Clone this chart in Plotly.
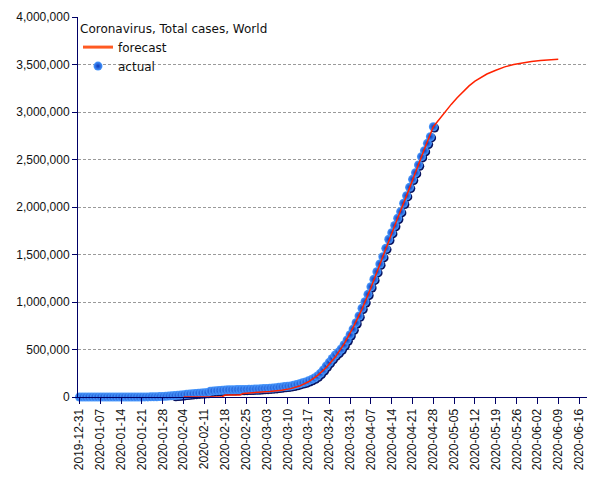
import pandas as pd
import plotly.graph_objects as go

# ---------------- data ----------------
actual_start = "2019-12-31"
actual_values = [
    27,
    # Jan
    27, 27, 44, 44, 59, 59, 59, 59, 59, 59, 59, 60, 61, 62, 63, 64, 66, 76, 203, 282,
    314, 580, 845, 1320, 2014, 2798, 4593, 6065, 7818, 9826, 11953,
    # Feb
    14557, 17391, 20630, 24554, 28276, 31481, 34886, 37558, 40554, 43103, 45171, 46997,
    60327, 64473, 67100, 69197, 71329, 73332, 75184, 75700, 76677, 77673, 78651, 79205,
    80087, 80828, 81820, 83112, 84615,
    # Mar
    86604, 88585, 90443, 93016, 95314, 98425, 102050, 106099, 109991, 113000, 117000,
    124000, 132000, 140000, 150000, 158000, 170000, 183000, 200000, 221000, 249000,
    285000, 326000, 365000, 405000, 442000, 470000, 505000, 550000, 600000, 655000,
    # Apr
    715000, 782000, 853000, 934000, 1003000, 1081000, 1160000, 1240000, 1319000, 1400000,
    1477000, 1565000, 1660000, 1730000, 1805000, 1881000, 1951000, 2039000, 2119000,
    2207000, 2291000, 2361000, 2442000, 2530000, 2593000, 2670000, 2740000, 2845000,
]
actual_dates = pd.date_range(actual_start, periods=len(actual_values), freq="D")

forecast_dates = [
    "2020-02-04", "2020-02-17", "2020-02-18", "2020-02-23", "2020-02-24", "2020-03-01",
    "2020-03-04", "2020-03-08", "2020-03-11", "2020-03-14", "2020-03-17", "2020-03-20",
    "2020-03-23", "2020-03-26", "2020-03-29", "2020-04-01", "2020-04-04", "2020-04-07",
    "2020-04-10", "2020-04-13", "2020-04-16", "2020-04-19", "2020-04-22", "2020-04-25",
    "2020-04-28", "2020-04-30", "2020-05-02", "2020-05-04", "2020-05-06", "2020-05-08",
    "2020-05-10", "2020-05-12", "2020-05-14", "2020-05-16", "2020-05-19", "2020-05-22",
    "2020-05-25", "2020-05-28", "2020-05-31", "2020-06-03", "2020-06-06", "2020-06-09",
]
forecast_values = [
    0, 3000, 20000, 21000, 38000, 48000,
    58000, 72000, 88000, 115000, 160000, 225000,
    310000, 420000, 560000, 730000, 925000, 1150000,
    1400000, 1650000, 1885000, 2120000, 2370000, 2610000,
    2845000, 2925000, 3003000, 3080000, 3150000, 3215000,
    3275000, 3325000, 3365000, 3400000, 3440000, 3475000,
    3500000, 3518000, 3532000, 3542000, 3550000, 3555000,
]

legend_title = "Coronavirus, Total cases, World"
y_ticks = [0, 500000, 1000000, 1500000, 2000000, 2500000, 3000000, 3500000, 4000000]
x_ticks = pd.date_range("2019-12-31", "2020-06-16", freq="7D")

# ---------------- figure ----------------
x_lo = pd.Timestamp("2019-12-30 12:00")
x_hi = pd.Timestamp("2020-06-18 16:00")
y_lo, y_hi = 0, 4000000
shadow_dx = pd.Timedelta(hours=10)
shadow_dy = 13000

AXIS = "#000066"
fig = go.Figure()

# legend entry for forecast (also anchors the main axes)
fig.add_trace(go.Scatter(
    x=[None], y=[None], mode="lines", name="forecast",
    line=dict(color="#ff5a22", width=3), legendrank=1,
))
# shadow under the balls (same data, drawn on a slightly shifted overlay axis)
fig.add_trace(go.Scatter(
    x=actual_dates, y=actual_values, mode="markers", xaxis="x2", yaxis="y2",
    marker=dict(size=9, color="#0a1460"), showlegend=False, hoverinfo="skip",
    cliponaxis=False,
))
fig.add_trace(go.Scatter(
    x=actual_dates, y=actual_values, mode="markers", name="actual",
    xaxis="x3", yaxis="y3",
    marker=dict(size=9, color="#4a9bff",
                gradient=dict(type="radial", color="#0a36b8"),
                line=dict(width=0)),
    legendrank=2, cliponaxis=False,
))
fig.add_trace(go.Scatter(
    x=forecast_dates, y=forecast_values, mode="lines", name="forecast",
    xaxis="x3", yaxis="y3",
    line=dict(color="#ff2200", width=1.5), showlegend=False,
))

# the page body has an 8px margin, so the figure is 8px smaller than the window
fig.update_layout(
    width=597, height=472,
    margin=dict(l=70, r=18, t=9, b=83, autoexpand=False),
    paper_bgcolor="white", plot_bgcolor="white",
    font=dict(family="Liberation Sans, Arial, sans-serif", size=12, color="#111"),
    showlegend=True,
    legend=dict(
        x=0, y=1, xanchor="left", yanchor="top", bgcolor="rgba(0,0,0,0)",
        title=dict(text=legend_title, font=dict(family="DejaVu Sans", size=12)),
        font=dict(family="DejaVu Sans", size=12), tracegroupgap=0,
    ),
    xaxis=dict(
        type="date", range=[x_lo, x_hi], tickvals=x_ticks, tickformat="%Y-%m-%d",
        tickangle=-90, showline=True, linecolor=AXIS, linewidth=1, automargin=False,
        ticks="outside", ticklen=6, tickcolor=AXIS, showgrid=False, zeroline=False,
    ),
    yaxis=dict(
        range=[y_lo, y_hi], tickvals=y_ticks, tickformat=",", showline=True,
        linecolor=AXIS, linewidth=1, ticks="outside", ticklen=5, tickcolor=AXIS,
        showgrid=True, gridcolor="#9a9a9a", griddash="3px,2px", gridwidth=1,
        zeroline=False, automargin=False,
    ),
    xaxis2=dict(type="date", overlaying="x", visible=False,
                range=[x_lo - shadow_dx, x_hi - shadow_dx]),
    yaxis2=dict(overlaying="y", visible=False,
                range=[y_lo + shadow_dy, y_hi + shadow_dy]),
    xaxis3=dict(type="date", overlaying="x", visible=False, range=[x_lo, x_hi]),
    yaxis3=dict(overlaying="y", visible=False, range=[y_lo, y_hi]),
)

fig.write_html("out.html")
